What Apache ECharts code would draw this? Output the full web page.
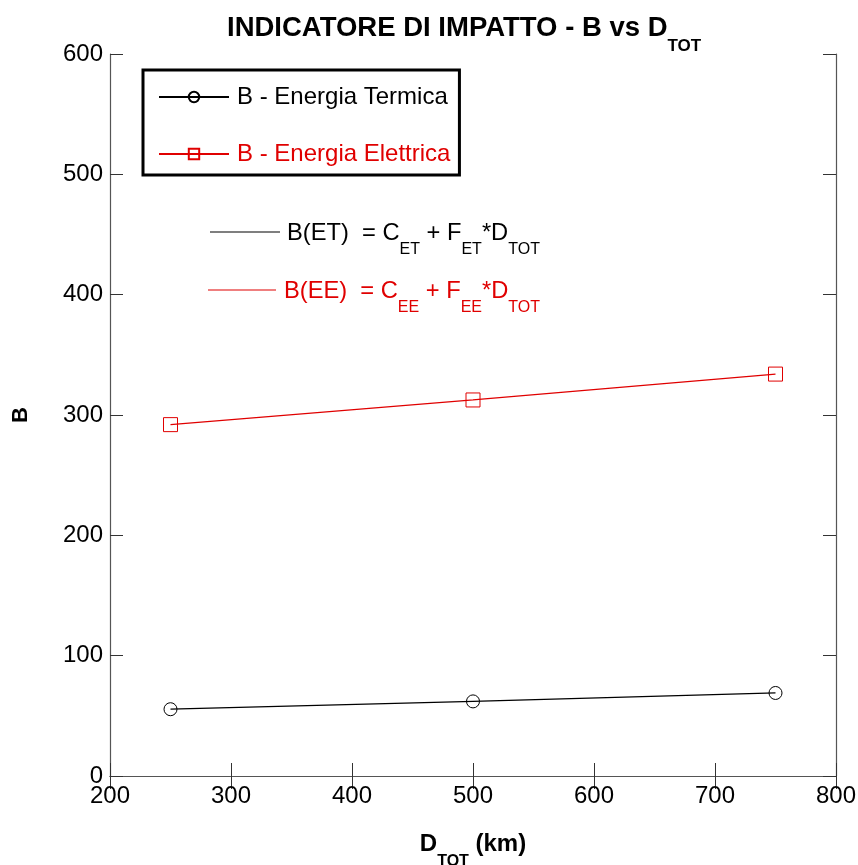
<!DOCTYPE html>
<html>
<head>
<meta charset="utf-8">
<script src="https://cdn.jsdelivr.net/npm/echarts@6/dist/echarts.min.js"></script>
<style>html,body{margin:0;padding:0;background:#fff}#c{width:858px;height:865px}</style>
</head>
<body>
<div id="c"></div>
<script>
const distances = [250, 500, 750];
const termica = [55.5, 62, 69];
const elettrica = [292, 312.5, 334];
const xTicks = [200, 300, 400, 500, 600, 700, 800];
const yTicks = [0, 100, 200, 300, 400, 500, 600];
const seriesNames = ['B - Energia Termica', 'B - Energia Elettrica'];

const FONT = '"Liberation Sans", Arial, sans-serif';
const RED = '#e00000';
const chart = echarts.init(document.getElementById('c'), null, {renderer: 'canvas'});

function pairs(xs, ys) { return xs.map((x, i) => [x, ys[i]]); }

const axisLine = {show: true, lineStyle: {color: '#555', width: 1.2}};
const tickStyle = {show: true, inside: true, length: 13, lineStyle: {color: '#333', width: 1}};
const commonX = {type: 'value', min: xTicks[0], max: xTicks[xTicks.length - 1], interval: 100, splitLine: {show: false}, axisLine: axisLine, axisTick: tickStyle};
const commonY = {type: 'value', min: yTicks[0], max: yTicks[yTicks.length - 1], interval: 100, splitLine: {show: false}, axisLine: axisLine, axisTick: tickStyle};

function annot(top, left, color, sub, lineX1, lineX2, lineY) {
  return [
    {type: 'line', shape: {x1: lineX1, y1: lineY, x2: lineX2, y2: lineY}, style: {stroke: color, lineWidth: 1.2}},
    {type: 'text', left: left, top: top, style: {
      rich: {
        m: {fontFamily: FONT, fontSize: 23.7, lineHeight: 26, verticalAlign: 'top', fill: color},
        s: {fontFamily: FONT, fontSize: 16, lineHeight: 16, padding: [21, 0, 0, 0], verticalAlign: 'top', fill: color}
      },
      text: '{m|B(' + sub + ')  = C}{s|' + sub + '}{m| + F}{s|' + sub + '}{m|*D}{s|TOT}'
    }}
  ];
}

const option = {
  animation: false,
  backgroundColor: '#fff',
  title: {
    left: 222, top: 9,
    text: '{m|INDICATORE DI IMPATTO - B vs D}{s|TOT}',
    textStyle: {
      rich: {
        m: {fontFamily: FONT, fontWeight: 'bold', fontSize: 27.5, lineHeight: 30, verticalAlign: 'top', color: '#000'},
        s: {fontFamily: FONT, fontWeight: 'bold', fontSize: 17, lineHeight: 17, padding: [24, 0, 0, 0], verticalAlign: 'top', color: '#000'}
      }
    }
  },
  legend: {
    orient: 'vertical',
    left: 143, top: 70,
    padding: [15, 9, 9, 15],
    borderColor: '#000', borderWidth: 3,
    itemWidth: 70, itemHeight: 13, itemGap: 33,
    textStyle: {fontFamily: FONT, fontSize: 24, color: '#000', padding: [0, 0, 0, 3]},
    data: [
      {name: seriesNames[0], textStyle: {color: '#000'}},
      {name: seriesNames[1], textStyle: {color: RED}}
    ]
  },
  grid: {left: 110, right: 22, top: 54, bottom: 89, containLabel: false, outerBoundsMode: 'none'},
  xAxis: [
    Object.assign({}, commonX, {
      position: 'bottom',
      axisLabel: {fontFamily: FONT, fontSize: 24, color: '#000', margin: 8},
      name: '{m|D}{s|TOT}{m| (km)}',
      nameLocation: 'middle', nameGap: 56,
      nameTextStyle: {
        verticalAlign: 'top',
        rich: {
          m: {fontFamily: FONT, fontWeight: 'bold', fontSize: 24, lineHeight: 26, verticalAlign: 'top', color: '#000'},
          s: {fontFamily: FONT, fontWeight: 'bold', fontSize: 16, lineHeight: 16, padding: [22, 0, 0, 0], verticalAlign: 'top', color: '#000'}
        }
      }
    }),
    Object.assign({}, commonX, {position: 'top', axisLabel: {show: false}})
  ],
  yAxis: [
    Object.assign({}, commonY, {
      position: 'left',
      axisLabel: {fontFamily: FONT, fontSize: 24, color: '#000', margin: 7},
      name: 'B', nameLocation: 'middle', nameGap: 78, nameRotate: 90,
      nameTextStyle: {fontFamily: FONT, fontWeight: 'bold', fontSize: 22, color: '#000'}
    }),
    Object.assign({}, commonY, {position: 'right', axisLabel: {show: false}})
  ],
  series: [
    {
      name: seriesNames[0], type: 'line', data: pairs(distances, termica),
      symbol: 'circle', symbolSize: 13,
      lineStyle: {color: '#000', width: 1.3},
      itemStyle: {color: 'rgba(0,0,0,0)', borderColor: '#000', borderWidth: 1}
    },
    {
      name: seriesNames[1], type: 'line', data: pairs(distances, elettrica),
      symbol: 'rect', symbolSize: 14,
      lineStyle: {color: RED, width: 1.3},
      itemStyle: {color: 'rgba(0,0,0,0)', borderColor: RED, borderWidth: 1}
    }
  ],
  graphic: [].concat(
    annot(221, 287, '#000', 'ET', 210, 280, 232),
    annot(279, 284, RED, 'EE', 208, 276, 290)
  )
};
chart.setOption(option);
</script>
</body>
</html>
